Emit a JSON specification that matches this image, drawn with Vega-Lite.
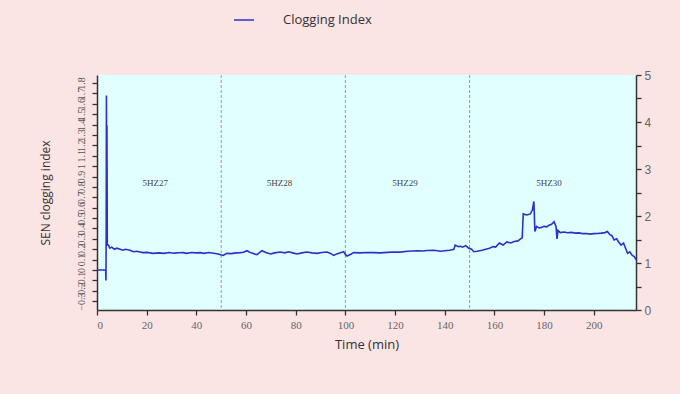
{
  "$schema": "https://vega.github.io/schema/vega-lite/v6.json",
  "width": 539,
  "height": 235,
  "autosize": "none",
  "padding": {"left": 97, "top": 75, "right": 44, "bottom": 84},
  "background": "#fbe4e4",
  "config": {"view": {"fill": "#e2ffff", "stroke": null}},
  "datasets": {
    "ci": [
      {"t":0,"v":0},{"t":3.5,"v":0},{"t":3.6,"v":-0.1},{"t":3.7,"v":0.35},{"t":3.8,"v":1.68},{"t":3.9,"v":0.3},{"t":4.0,"v":1.39},{"t":4.15,"v":0.24},{"t":4.6,"v":0.24},{"t":5.2,"v":0.21},{"t":5.9,"v":0.22},{"t":7,"v":0.2},{"t":8,"v":0.21},{"t":9.3,"v":0.2},{"t":10.5,"v":0.19},{"t":11.5,"v":0.2},{"t":13.3,"v":0.19},{"t":14.6,"v":0.176},{"t":16,"v":0.18},{"t":18.5,"v":0.167},{"t":20,"v":0.17},{"t":22.6,"v":0.16},{"t":25,"v":0.165},{"t":27,"v":0.16},{"t":29,"v":0.168},{"t":31,"v":0.162},{"t":33,"v":0.166},{"t":34.7,"v":0.167},{"t":36,"v":0.16},{"t":38,"v":0.168},{"t":40,"v":0.165},{"t":41.5,"v":0.167},{"t":43,"v":0.16},{"t":45,"v":0.168},{"t":47,"v":0.162},{"t":48.8,"v":0.154},{"t":50.8,"v":0.14},{"t":52.3,"v":0.16},{"t":54,"v":0.158},{"t":56,"v":0.165},{"t":57.7,"v":0.167},{"t":59,"v":0.17},{"t":60.4,"v":0.186},{"t":62,"v":0.165},{"t":64.4,"v":0.147},{"t":66.4,"v":0.186},{"t":68,"v":0.168},{"t":69.8,"v":0.154},{"t":71.5,"v":0.165},{"t":73.8,"v":0.173},{"t":75.5,"v":0.165},{"t":77.1,"v":0.176},{"t":78.8,"v":0.165},{"t":80.5,"v":0.154},{"t":82.5,"v":0.165},{"t":84.5,"v":0.173},{"t":86.5,"v":0.165},{"t":88.6,"v":0.16},{"t":90.5,"v":0.168},{"t":92.6,"v":0.173},{"t":94,"v":0.16},{"t":95.3,"v":0.141},{"t":96.5,"v":0.155},{"t":98,"v":0.167},{"t":99.3,"v":0.176},{"t":100,"v":0.15},{"t":100.7,"v":0.135},{"t":102,"v":0.15},{"t":103.4,"v":0.167},{"t":106,"v":0.165},{"t":108.5,"v":0.168},{"t":111.4,"v":0.167},{"t":114,"v":0.165},{"t":117,"v":0.17},{"t":119.5,"v":0.173},{"t":122,"v":0.172},{"t":125,"v":0.18},{"t":128.9,"v":0.186},{"t":131,"v":0.183},{"t":133,"v":0.188},{"t":135.6,"v":0.19},{"t":137,"v":0.185},{"t":138.3,"v":0.18},{"t":140,"v":0.185},{"t":142,"v":0.19},{"t":143.7,"v":0.2},{"t":144.2,"v":0.24},{"t":145.5,"v":0.225},{"t":146.4,"v":0.228},{"t":147.2,"v":0.22},{"t":148.4,"v":0.235},{"t":149.7,"v":0.21},{"t":150.8,"v":0.2},{"t":151.7,"v":0.176},{"t":153,"v":0.18},{"t":155,"v":0.19},{"t":156.5,"v":0.2},{"t":158,"v":0.21},{"t":159.5,"v":0.225},{"t":160.5,"v":0.22},{"t":162,"v":0.26},{"t":163.5,"v":0.24},{"t":165,"v":0.27},{"t":166.5,"v":0.26},{"t":168,"v":0.275},{"t":169.5,"v":0.28},{"t":170.5,"v":0.3},{"t":171.2,"v":0.31},{"t":171.6,"v":0.54},{"t":173,"v":0.53},{"t":174.5,"v":0.54},{"t":175.3,"v":0.58},{"t":175.9,"v":0.66},{"t":176.3,"v":0.37},{"t":177,"v":0.42},{"t":178,"v":0.405},{"t":179,"v":0.41},{"t":180,"v":0.42},{"t":181,"v":0.415},{"t":182,"v":0.43},{"t":183,"v":0.44},{"t":184,"v":0.465},{"t":184.8,"v":0.42},{"t":185.2,"v":0.3},{"t":185.6,"v":0.38},{"t":186.5,"v":0.36},{"t":188,"v":0.365},{"t":189.5,"v":0.358},{"t":191,"v":0.362},{"t":192.5,"v":0.355},{"t":194,"v":0.357},{"t":195.5,"v":0.35},{"t":197,"v":0.352},{"t":198.5,"v":0.345},{"t":200,"v":0.35},{"t":201.5,"v":0.352},{"t":203,"v":0.355},{"t":204.5,"v":0.36},{"t":205.5,"v":0.37},{"t":206.5,"v":0.34},{"t":207.3,"v":0.33},{"t":208.2,"v":0.29},{"t":209.2,"v":0.3},{"t":210,"v":0.27},{"t":211,"v":0.24},{"t":212,"v":0.26},{"t":212.8,"v":0.21},{"t":213.6,"v":0.16},{"t":214.5,"v":0.175},{"t":215.5,"v":0.14},{"t":216.3,"v":0.13},{"t":217,"v":0.1}
    ],
    "bounds": [{"t":50},{"t":100},{"t":150}],
    "labels": [
      {"t":23.5,"v":0.84,"name":"5HZ27"},
      {"t":73.5,"v":0.84,"name":"5HZ28"},
      {"t":124,"v":0.84,"name":"5HZ29"},
      {"t":182,"v":0.84,"name":"5HZ30"}
    ]
  },
  "layer": [
    {
      "data": {"name": "bounds"},
      "mark": {"type": "rule", "stroke": "#9a9a9a", "strokeDash": [3, 2], "strokeWidth": 1},
      "encoding": {
        "x": {"field": "t", "type": "quantitative", "title": "Time (min)", "scale": {"domain": [0, 217], "nice": false, "zero": false}}
      }
    },
    {
      "data": {"name": "labels"},
      "mark": {"type": "text", "font": "Liberation Serif", "fontSize": 9, "color": "#444444"},
      "encoding": {
        "x": {"field": "t", "type": "quantitative", "title": "Time (min)", "scale": {"domain": [0, 217], "nice": false, "zero": false}},
        "y": {"field": "v", "type": "quantitative", "scale": {"domain": [-0.385, 1.877], "nice": false, "zero": false}, "axis": null},
        "text": {"field": "name"}
      }
    },
    {
      "data": {"name": "ci"},
      "mark": {"type": "line", "strokeWidth": 1.6, "interpolate": "linear"},
      "encoding": {
        "x": {
          "field": "t", "type": "quantitative", "title": "Time (min)",
          "scale": {"domain": [0, 217], "nice": false, "zero": false},
          "axis": {
            "values": [0,10,20,30,40,50,60,70,80,90,100,110,120,130,140,150,160,170,180,190,200,210],
            "labelExpr": "datum.value % 20 == 0 ? datum.label : ''",
            "grid": false, "tickSize": 5, "tickColor": "#333333", "tickWidth": 1.3,
            "domainColor": "#333333", "domainWidth": 1.5,
            "labelFont": "Liberation Serif", "labelFontSize": 11, "labelColor": "#666666", "labelPadding": 4,
            "titleFont": "Open Sans", "titleFontSize": 13, "titleFontWeight": "normal", "titleColor": "#333333", "titlePadding": 8
          }
        },
        "y": {
          "field": "v", "type": "quantitative", "title": "SEN clogging index",
          "scale": {"domain": [-0.385, 1.877], "nice": false, "zero": false},
          "axis": {
            "values": [-0.3,-0.2,-0.1,0,0.1,0.2,0.3,0.4,0.5,0.6,0.7,0.8,0.9,1.0,1.1,1.2,1.3,1.4,1.5,1.6,1.7,1.8],
            "labelExpr": "format(datum.value, '.1~f')",
            "labelAngle": -90, "labelAlign": "center", "labelBaseline": "bottom",
            "labelOverlap": false, "labelFont": "Liberation Serif", "labelFontSize": 10, "labelColor": "#555555", "labelPadding": 6,
            "grid": false, "tickSize": 5, "tickColor": "#333333", "tickWidth": 1.3,
            "domainColor": "#333333", "domainWidth": 1.5,
            "titleFont": "Open Sans", "titleFontSize": 12, "titleFontWeight": "normal", "titleColor": "#333333", "titlePadding": 24
          }
        },
        "stroke": {
          "datum": "Clogging Index", "type": "nominal",
          "scale": {"range": ["#2f2fc8"]},
          "legend": {
            "title": null, "orient": "none", "legendX": 136, "legendY": -66,
            "symbolType": "stroke", "symbolSize": 400, "symbolStrokeWidth": 1.5, "symbolStrokeColor": "#6a5acd",
            "labelFont": "Open Sans", "labelFontSize": 13, "labelColor": "#333333", "labelOffset": 28, "padding": 0
          }
        }
      }
    },
    {
      "data": {"name": "bounds"},
      "mark": {"type": "point", "opacity": 0},
      "encoding": {
        "x": {"field": "t", "type": "quantitative", "title": "Time (min)", "scale": {"domain": [0, 217], "nice": false, "zero": false}},
        "y": {
          "datum": 0, "type": "quantitative",
          "scale": {"domain": [0, 5], "nice": false, "zero": false},
          "axis": {
            "orient": "right", "title": null,
            "values": [0,0.5,1,1.5,2,2.5,3,3.5,4,4.5,5],
            "labelExpr": "datum.value % 1 == 0 ? format(datum.value, 'd') : ''",
            "grid": false, "tickSize": 5, "tickColor": "#333333", "tickWidth": 1.3,
            "domainColor": "#333333", "domainWidth": 1.5,
            "labelFont": "Liberation Sans", "labelFontSize": 12, "labelColor": "#666666", "labelPadding": 3
          }
        }
      }
    }
  ],
  "resolve": {"scale": {"y": "independent"}}
}
